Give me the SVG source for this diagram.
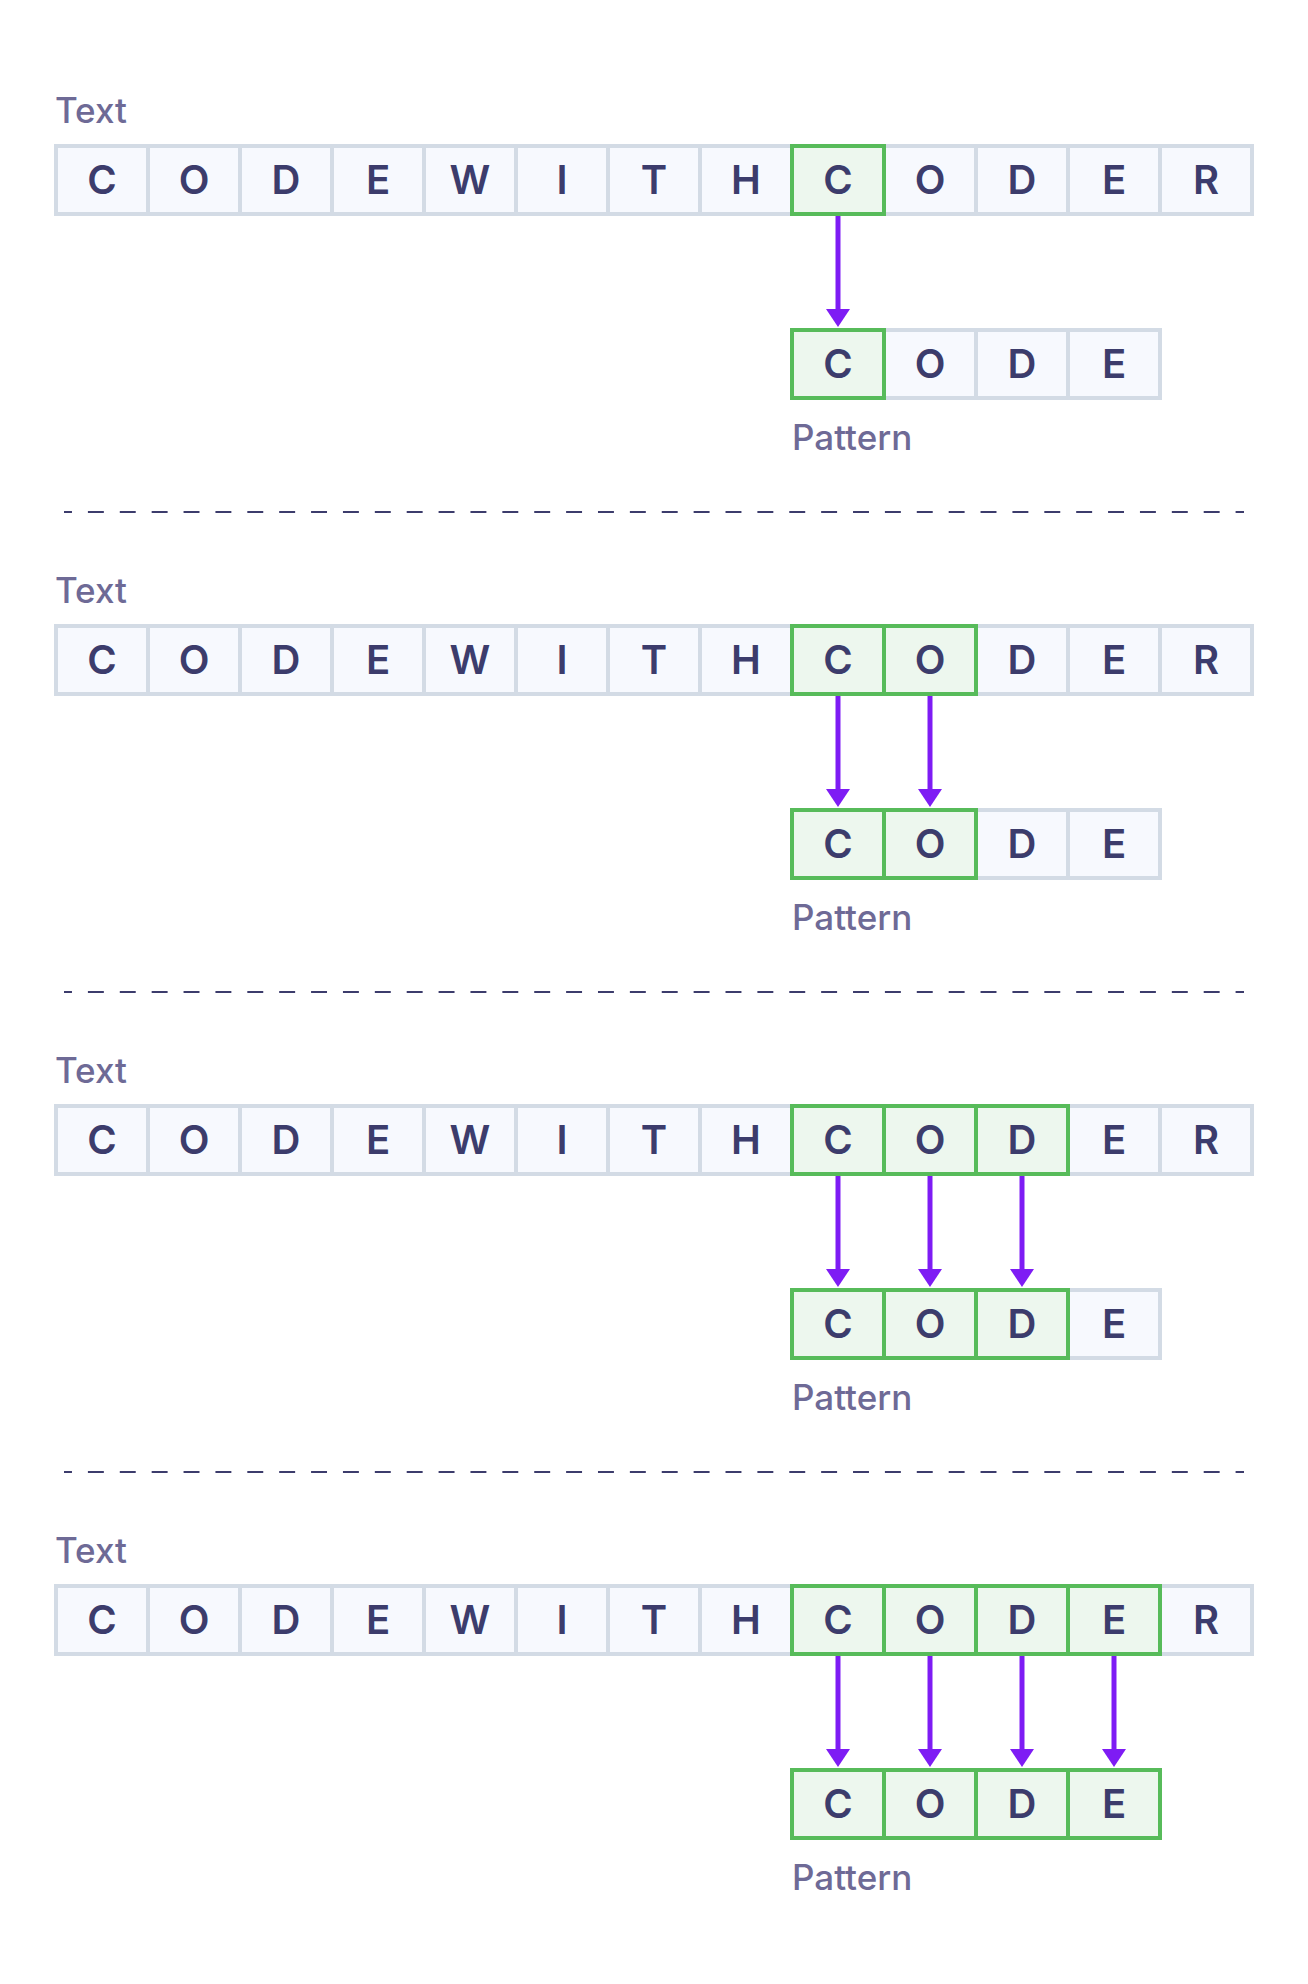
<svg xmlns="http://www.w3.org/2000/svg" width="1308" height="1984" viewBox="0 0 1308 1984">
<style>
.bg{fill:#ffffff}
.c{fill:#f7f9fe;stroke:#d3dbe5;stroke-width:4}
.g{fill:#edf7ee;stroke:#57bb5a;stroke-width:4}
.l{font-family:Inter,"Liberation Sans",sans-serif;font-size:40px;font-weight:600;fill:#3c3c6c;text-anchor:middle}
.lab{font-family:Inter,"Liberation Sans",sans-serif;font-size:35px;font-weight:500;fill:#6e6a96}
.arr{stroke:#7e1cf4;stroke-width:5;fill:none;marker-end:url(#ah)}
.dash{stroke:#3c3c6c;stroke-width:2;stroke-dasharray:15.94 15.94;stroke-dashoffset:7.97;fill:none}
</style>
<defs>
<marker id="ah" viewBox="0 0 18 24" refX="0" refY="12" markerWidth="18" markerHeight="24" markerUnits="userSpaceOnUse" orient="auto">
<path d="M0,0 L18,12 L0,24 z" fill="#7e1cf4"/>
</marker>
<g id="row-text">
<rect class="c" x="56" y="0" width="92" height="68"/>
<rect class="c" x="148" y="0" width="92" height="68"/>
<rect class="c" x="240" y="0" width="92" height="68"/>
<rect class="c" x="332" y="0" width="92" height="68"/>
<rect class="c" x="424" y="0" width="92" height="68"/>
<rect class="c" x="516" y="0" width="92" height="68"/>
<rect class="c" x="608" y="0" width="92" height="68"/>
<rect class="c" x="700" y="0" width="92" height="68"/>
<rect class="c" x="792" y="0" width="92" height="68"/>
<rect class="c" x="884" y="0" width="92" height="68"/>
<rect class="c" x="976" y="0" width="92" height="68"/>
<rect class="c" x="1068" y="0" width="92" height="68"/>
<rect class="c" x="1160" y="0" width="92" height="68"/>
</g>
<g id="row-pat">
<rect class="c" x="792" y="0" width="92" height="68"/>
<rect class="c" x="884" y="0" width="92" height="68"/>
<rect class="c" x="976" y="0" width="92" height="68"/>
<rect class="c" x="1068" y="0" width="92" height="68"/>
</g>
<g id="letters-text">
<text class="l" x="102" y="48">C</text>
<text class="l" x="194" y="48">O</text>
<text class="l" x="286" y="48">D</text>
<text class="l" x="378" y="48">E</text>
<text class="l" x="470" y="48">W</text>
<text class="l" x="562" y="48">I</text>
<text class="l" x="654" y="48">T</text>
<text class="l" x="746" y="48">H</text>
<text class="l" x="838" y="48">C</text>
<text class="l" x="930" y="48">O</text>
<text class="l" x="1022" y="48">D</text>
<text class="l" x="1114" y="48">E</text>
<text class="l" x="1206" y="48">R</text>
</g>
<g id="letters-pat">
<text class="l" x="838" y="48">C</text>
<text class="l" x="930" y="48">O</text>
<text class="l" x="1022" y="48">D</text>
<text class="l" x="1114" y="48">E</text>
</g>
</defs>
<rect class="bg" x="0" y="0" width="1308" height="1984"/>

<!-- Section 1 -->
<g id="step1">
<text class="lab" x="55" y="123">Text</text>
<g id="s1-text" transform="translate(0,146)">
<use href="#row-text"/>
<rect class="g" x="792" y="0" width="92" height="68"/>
<use href="#letters-text"/>
</g>
<g id="s1-pattern" transform="translate(0,330)">
<use href="#row-pat"/>
<rect class="g" x="792" y="0" width="92" height="68"/>
<use href="#letters-pat"/>
</g>
<text class="lab" x="792" y="450">Pattern</text>
</g>

<!-- Section 2 -->
<g id="step2">
<text class="lab" x="55" y="603">Text</text>
<g id="s2-text" transform="translate(0,626)">
<use href="#row-text"/>
<rect class="g" x="792" y="0" width="92" height="68"/>
<rect class="g" x="884" y="0" width="92" height="68"/>
<use href="#letters-text"/>
</g>
<g id="s2-pattern" transform="translate(0,810)">
<use href="#row-pat"/>
<rect class="g" x="792" y="0" width="92" height="68"/>
<rect class="g" x="884" y="0" width="92" height="68"/>
<use href="#letters-pat"/>
</g>
<text class="lab" x="792" y="930">Pattern</text>
</g>

<!-- Section 3 -->
<g id="step3">
<text class="lab" x="55" y="1083">Text</text>
<g id="s3-text" transform="translate(0,1106)">
<use href="#row-text"/>
<rect class="g" x="792" y="0" width="92" height="68"/>
<rect class="g" x="884" y="0" width="92" height="68"/>
<rect class="g" x="976" y="0" width="92" height="68"/>
<use href="#letters-text"/>
</g>
<g id="s3-pattern" transform="translate(0,1290)">
<use href="#row-pat"/>
<rect class="g" x="792" y="0" width="92" height="68"/>
<rect class="g" x="884" y="0" width="92" height="68"/>
<rect class="g" x="976" y="0" width="92" height="68"/>
<use href="#letters-pat"/>
</g>
<text class="lab" x="792" y="1410">Pattern</text>
</g>

<!-- Section 4 -->
<g id="step4">
<text class="lab" x="55" y="1563">Text</text>
<g id="s4-text" transform="translate(0,1586)">
<use href="#row-text"/>
<rect class="g" x="792" y="0" width="92" height="68"/>
<rect class="g" x="884" y="0" width="92" height="68"/>
<rect class="g" x="976" y="0" width="92" height="68"/>
<rect class="g" x="1068" y="0" width="92" height="68"/>
<use href="#letters-text"/>
</g>
<g id="s4-pattern" transform="translate(0,1770)">
<use href="#row-pat"/>
<rect class="g" x="792" y="0" width="92" height="68"/>
<rect class="g" x="884" y="0" width="92" height="68"/>
<rect class="g" x="976" y="0" width="92" height="68"/>
<rect class="g" x="1068" y="0" width="92" height="68"/>
<use href="#letters-pat"/>
</g>
<text class="lab" x="792" y="1890">Pattern</text>
</g>

<!-- Separators -->
<g id="separators">
<line class="dash" x1="64" y1="512" x2="1244" y2="512"/>
<line class="dash" x1="64" y1="992" x2="1244" y2="992"/>
<line class="dash" x1="64" y1="1472" x2="1244" y2="1472"/>
</g>

<!-- Connectors -->
<g id="connectors">
<line class="arr" x1="838" y1="216" x2="838" y2="309"/>
<line class="arr" x1="838" y1="696" x2="838" y2="789"/>
<line class="arr" x1="930" y1="696" x2="930" y2="789"/>
<line class="arr" x1="838" y1="1176" x2="838" y2="1269"/>
<line class="arr" x1="930" y1="1176" x2="930" y2="1269"/>
<line class="arr" x1="1022" y1="1176" x2="1022" y2="1269"/>
<line class="arr" x1="838" y1="1656" x2="838" y2="1749"/>
<line class="arr" x1="930" y1="1656" x2="930" y2="1749"/>
<line class="arr" x1="1022" y1="1656" x2="1022" y2="1749"/>
<line class="arr" x1="1114" y1="1656" x2="1114" y2="1749"/>
</g>
</svg>
